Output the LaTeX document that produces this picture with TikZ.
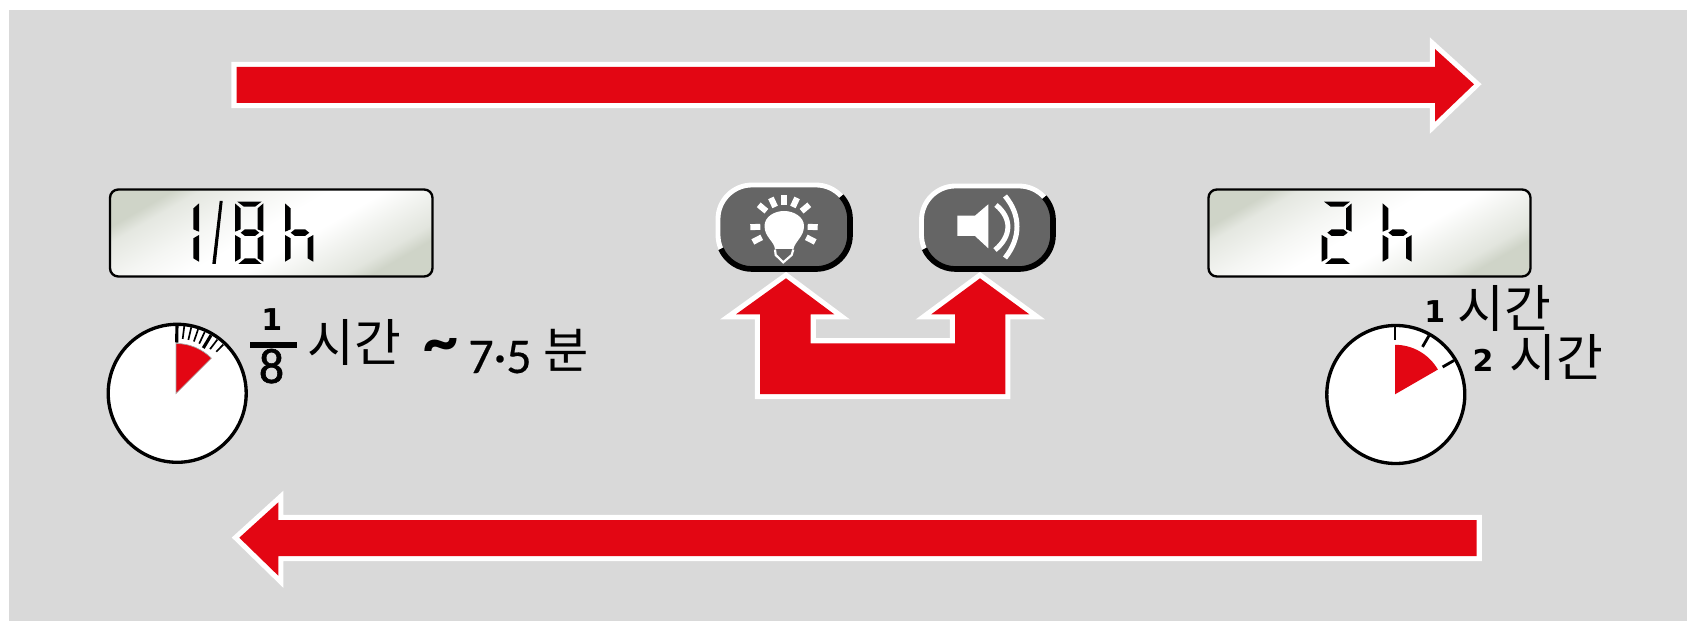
\documentclass[tikz,border=0pt]{standalone}
\usepackage{fontspec}
\setmainfont{Carlito}
\newfontfamily\krfont{Noto Sans CJK KR}
\newfontfamily\numfont{DejaVu Sans}
\definecolor{bgray}{HTML}{D9D9D9}
\definecolor{mred}{HTML}{E30613}
\definecolor{btngray}{HTML}{656565}
\definecolor{lcdg}{HTML}{CFD4C8}
\pgfdeclarehorizontalshading{lcdshade}{100bp}{
 color(0bp)=(lcdg); color(25bp)=(lcdg); color(29bp)=(lcdg!55!white); color(39bp)=(lcdg!22!white); color(48bp)=(white);
 color(56bp)=(white); color(62bp)=(lcdg!25!white); color(71bp)=(lcdg!60!white); color(75bp)=(lcdg); color(100bp)=(lcdg)}
\tikzset{
 px/.style={x=0.6pt,y=-0.6pt},
 halo/.style={draw=white,line width=6.2pt,miter limit=10,line join=miter},
 redfill/.style={fill=mred},
 lcdbox/.style={draw=black,line width=1.4pt,rounded corners=5pt,shading=lcdshade,shading angle=-60},
 dial/.style={draw=black,fill=white,line width=2pt},
 thin tick/.style={draw=black,line width=1pt},
 thick tick/.style={draw=black,line width=1.9pt},
 hour tick/.style={draw=black,line width=1.7pt},
 label/.style={inner sep=0pt,anchor=base,text=black},
 rayline/.style={draw=white,line width=3.6pt},
 wave/.style={draw=white,line width=3pt},
}
% seven-segment pieces, relative to the digit's top-left, with width \W
\newcommand\sgA{\fill (2.3,0)--({\W-1.7},0)--({\W-8.3},5)--(9,5)--cycle;}
\newcommand\sgB{\fill ({\W},1.7)--({\W-5.7},6.7)--({\W-5.7},27.6)--({\W},30)--cycle;}
\newcommand\sgC{\fill ({\W},33.3)--({\W-5.7},36.6)--({\W-5.7},56.6)--({\W},60)--cycle;}
\newcommand\sgD{\fill (3.3,62.3)--({\W-1.7},62.3)--({\W-8.3},56.6)--(10,56.6)--cycle;}
\newcommand\sgE{\fill (0,33.3)--(5.7,36.6)--(5.7,56.6)--(0,60)--cycle;}
\newcommand\sgF{\fill (0,1.7)--(5.7,6.7)--(5.7,27.6)--(0,30)--cycle;}
\newcommand\sgG{\fill (5.7,31)--(10,27.6)--({\W-8.3},27.6)--({\W-4},31)--({\W-8.3},34.3)--(10,34.3)--cycle;}
% button: x0 y0 x1 y1, white upper-left, black lower-right
\newcommand\keybtn[4]{%
 \fill[btngray,rounded corners=20.4pt] (#1,#2) rectangle (#3,#4);
 \draw[white,line width=2.9pt] ({#1+34+34*cos(156)},{#4-34+34*sin(156)}) arc[start angle=156,end angle=180,radius=34]
   -- (#1,{#2+34}) arc[start angle=180,end angle=270,radius=34] -- ({#3-34},#2) arc[start angle=270,end angle=318,radius=34];
 \draw[black,line width=3.4pt] ({#3-34+34*cos(318)},{#2+34+34*sin(318)}) arc[start angle=318,end angle=360,radius=34]
   -- (#3,{#4-34}) arc[start angle=0,end angle=90,radius=34] -- ({#1+34},#4) arc[start angle=90,end angle=156,radius=34];
}
\begin{document}
\begin{tikzpicture}[px]
\useasboundingbox (0,0) rectangle (1687,621);
\fill[bgray] (9,10) rectangle (1687,621);
% top arrow
\def\toparrow{(236.5,67)--(1435,67)--(1435,49)--(1474,84.3)--(1435,121.7)--(1435,103)--(236.5,103)--cycle}
\draw[halo] \toparrow; \fill[redfill] \toparrow;
% bottom arrow
\def\botarrow{(1476.7,520)--(278.3,520)--(278.3,502.3)--(239.3,537.7)--(278.3,575.7)--(278.3,556)--(1476.7,556)--cycle}
\draw[halo] \botarrow; \fill[redfill] \botarrow;
% double arrow
\def\uarrow{(786,278.3)--(736,314.3)--(760,314.3)--(760,394)--(1005.3,394)--(1005.3,314.3)--(1029.3,314.3)--(980,278.3)--(931.3,314.3)--(955,314.3)--(955,343.3)--(810.7,343.3)--(810.7,314.3)--(834.3,314.3)--cycle}
\draw[halo] \uarrow; \fill[redfill] \uarrow;
% LCD panels
\path[lcdbox] (110,189.5) rectangle (432.5,276.5);
\path[lcdbox] (1208.5,189.5) rectangle (1530.5,276.5);
% left LCD text 1/8h
\begin{scope}[shift={(170.7,201.7)}] \def\W{28.3} \sgB \sgC \end{scope}
\fill (219.7,201)--(222.7,201)--(215.7,264)--(212.3,264)--cycle;
\begin{scope}[shift={(235,201.7)}] \def\W{28.3} \sgA \sgB \sgC \sgD \sgE \sgF \sgG \end{scope}
\begin{scope}[shift={(285,201.7)}] \def\W{28.3} \sgC \sgE \sgF \sgG \end{scope}
% right LCD text 2 h
\begin{scope}[shift={(1321.7,201.7)}] \def\W{30} \sgA \sgB \sgD \sgE \sgG \end{scope}
\begin{scope}[shift={(1382.7,201.7)}] \def\W{29} \sgC \sgE \sgF \sgG \end{scope}
% buttons
\keybtn{718}{185}{850}{269}
\keybtn{921.5}{186}{1053}{269}
% bulb
\fill[white] (775,249) .. controls (774,241) and (764.5,237) .. (764.5,226) .. controls (764.5,217) and (774,211) .. (784,211) .. controls (794,211) and (804,217) .. (804,226) .. controls (804,237) and (795,241) .. (793.5,249) -- cycle;
\draw[white,line width=1.3pt] (775,249.5)--(775.7,255)--(783.3,262.3)--(791.7,255)--(793.3,249.5);
\foreach \a/\ra in {-90/26,-115/26,-65/26,-140/28,-40/28,178/28.7,2/28.7,153/30,27/30}
  \draw[rayline] ({784+(\ra-5)*cos(\a)},{226+(\ra-5)*sin(\a)}) -- ({784+(\ra+5)*cos(\a)},{226+(\ra+5)*sin(\a)});
% speaker
\fill[white] (957.3,215.7)--(975,215.7)--(988.3,204.3)--(988.3,248.3)--(975,236)--(957.3,236)--cycle;
\draw[wave] (996,205) .. controls (1012,218) and (1012,236) .. (995,250);
\draw[wave] (1005,196) .. controls (1021,215) and (1021,238) .. (1005,258);
% left dial
\draw[dial] (177.2,393.3) circle[radius=69];
\foreach \a/\rin in {7/55,13/55,19/55,25/55,37.5/56,44/58}
  \draw[thin tick] ({176+\rin*sin(\a)},{393.5-\rin*cos(\a)}) -- ({176+68*sin(\a)},{393.5-68*cos(\a)});
\foreach \a/\rin in {0.8/51,31/53}
  \draw[thick tick] ({176+\rin*sin(\a)},{393.5-\rin*cos(\a)}) -- ({176+68*sin(\a)},{393.5-68*cos(\a)});
\filldraw[fill=mred,draw=gray!70,line width=0.4pt] (176,393.5) -- (176,343.5) arc[start angle=-90,end angle=-45,radius=50] -- cycle;
% right dial
\draw[dial] (1395.8,394.5) circle[radius=69];
\foreach \a in {0,30,60}
  \draw[hour tick] ({1395+55*sin(\a)},{394.5-55*cos(\a)}) -- ({1395+68*sin(\a)},{394.5-68*cos(\a)});
\fill[mred] (1395,394.3) -- (1395,344.8) arc[start angle=-90,end angle=-30,radius=49.5] -- cycle;
% texts
\fill[black] (250,341.7) rectangle (296.7,347.8);
\node[label] (oneA) at (271.7,330) {\numfont\fontsize{18}{20}\selectfont\bfseries 1};
\node[label] (eight) at (271.5,383) {\addfontfeature{FakeBold=1.2}\fontsize{30}{32}\selectfont 8};
\node[label] (hourA) at (354,361) {\krfont\fontsize{30.5}{32}\selectfont 시간};
\node[label] (tilde) at (441,364) {\fontsize{42}{44}\selectfont\bfseries \char`\~};
\node[label] (val) at (500,373) {\addfontfeature{FakeBold=0.4}\fontsize{30}{32}\selectfont 7·5};
\node[label] (minA) at (566,368) {\krfont\fontsize{29.5}{32}\selectfont 분};
\node[label] (oneB) at (1434.7,322.7) {\numfont\fontsize{18}{20}\selectfont\bfseries 1};
\node[label] (hourB) at (1504,328) {\krfont\fontsize{30.5}{32}\selectfont 시간};
\node[label] (twoB) at (1483,371.7) {\numfont\fontsize{18}{20}\selectfont\bfseries 2};
\node[label] (hourC) at (1556.7,376) {\krfont\fontsize{30.5}{32}\selectfont 시간};
\end{tikzpicture}
\end{document}
